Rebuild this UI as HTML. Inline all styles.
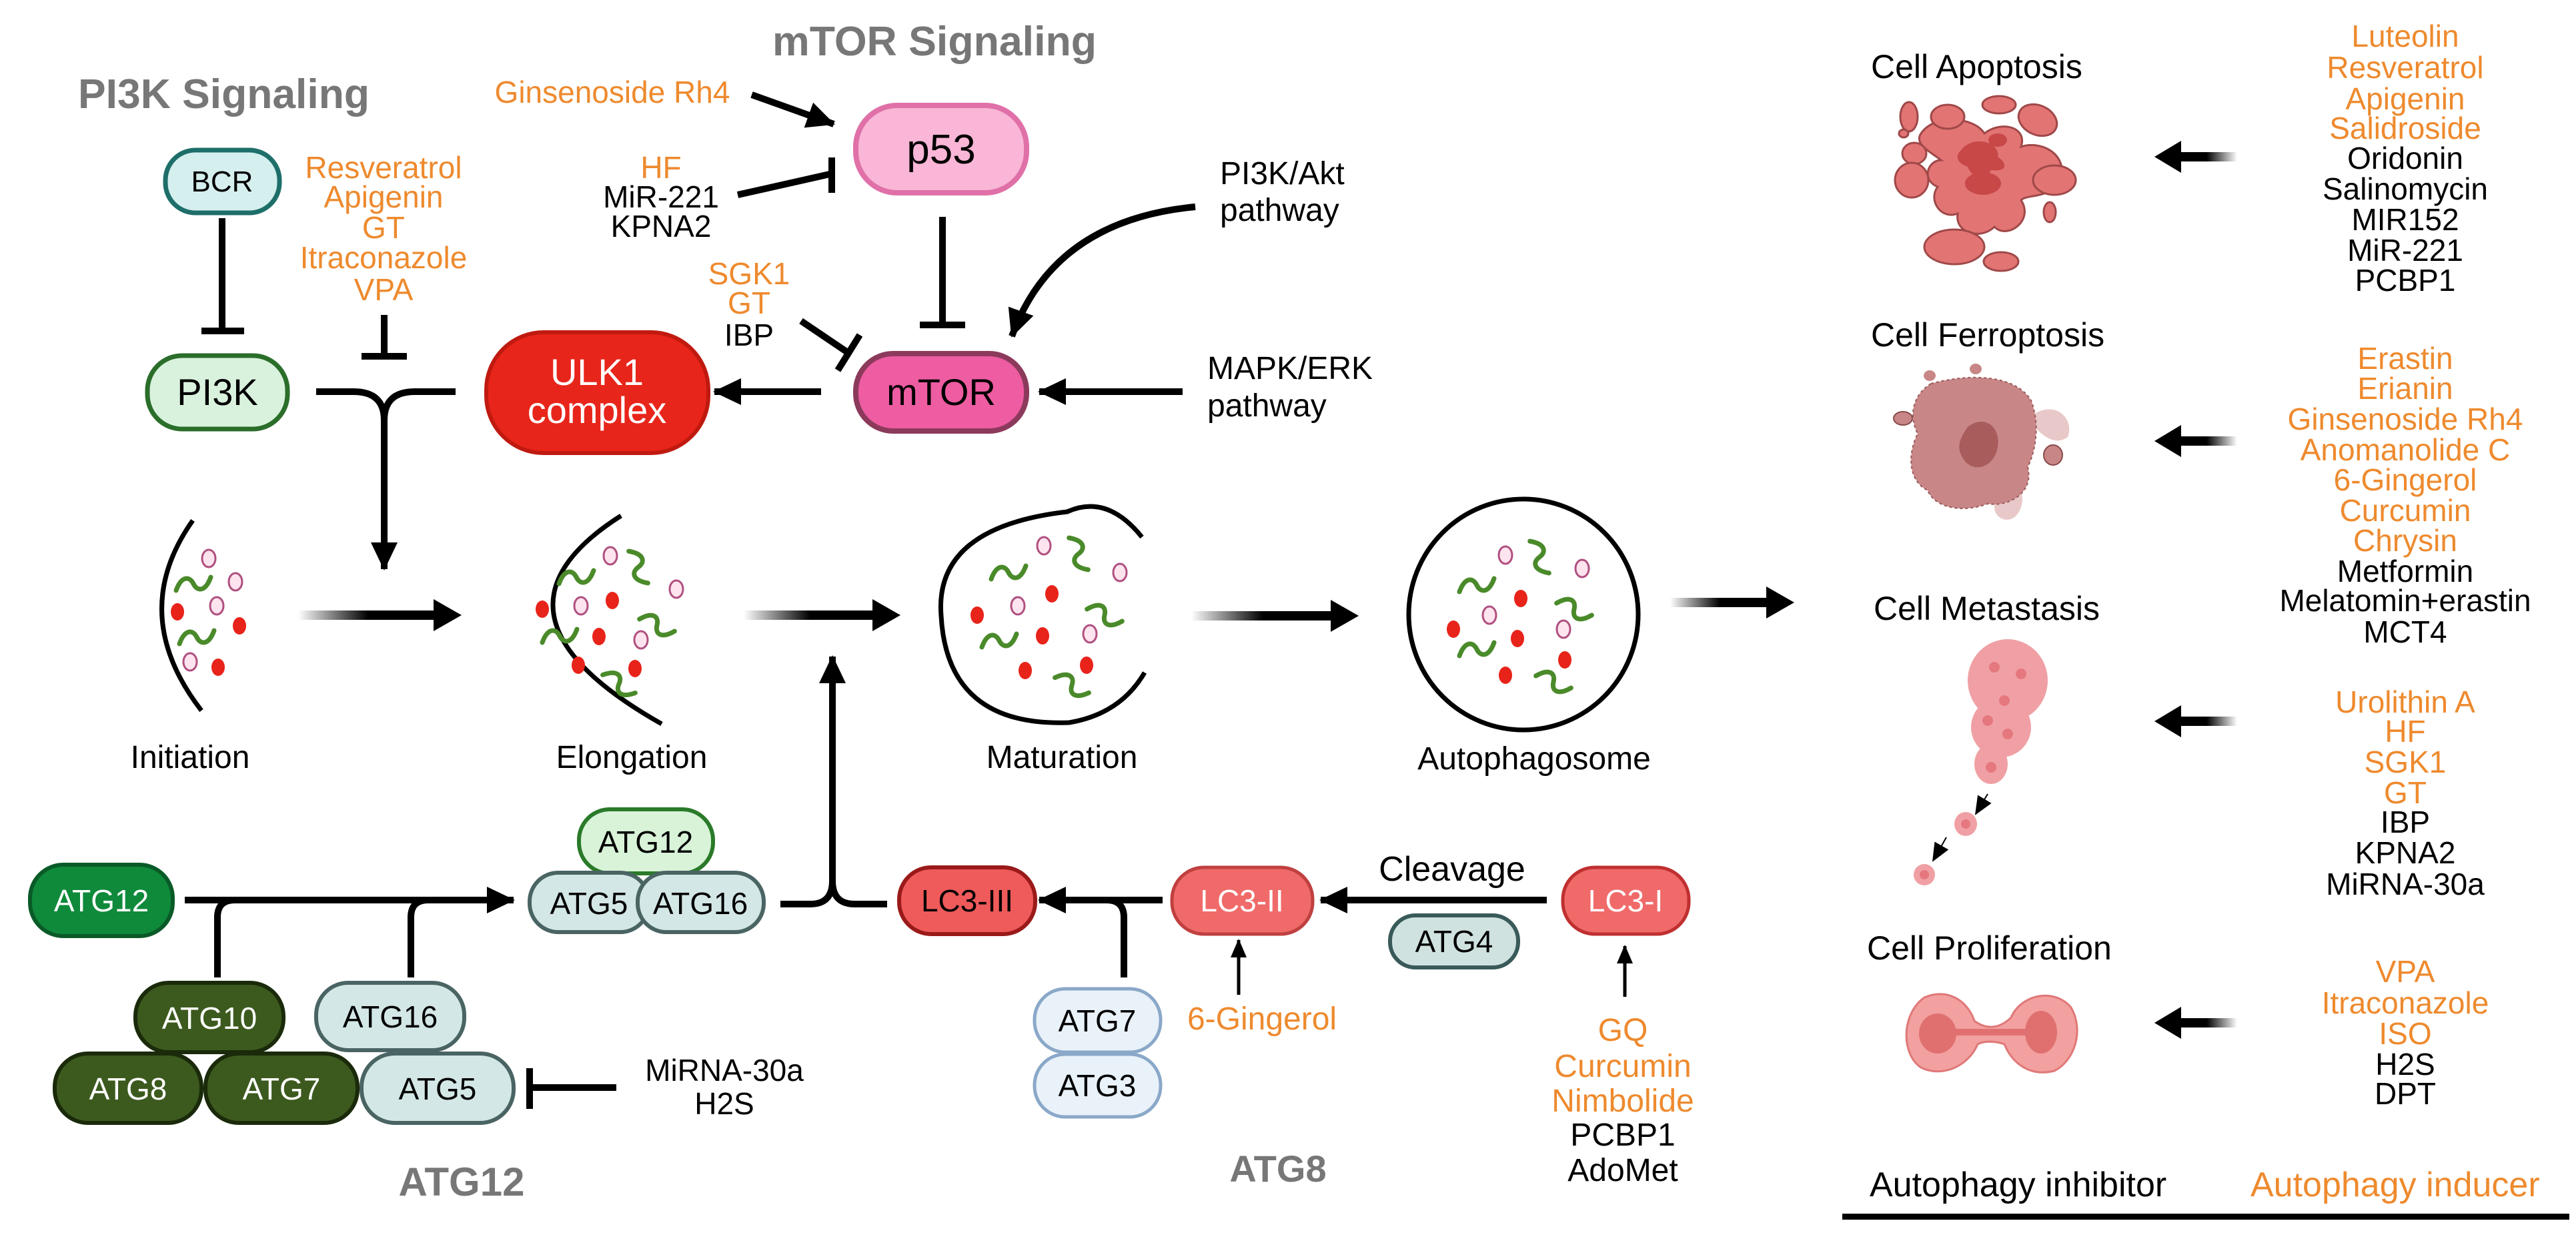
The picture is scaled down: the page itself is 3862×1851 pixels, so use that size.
<!DOCTYPE html>
<html><head><meta charset="utf-8"><style>
html,body{margin:0;padding:0;background:#fff}
svg{display:block}
text{font-family:"Liberation Sans",sans-serif}
</style></head><body>
<svg width="3862" height="1851" viewBox="0 0 3862 1851" xmlns="http://www.w3.org/2000/svg">
<defs>
<marker id="ah" markerUnits="userSpaceOnUse" markerWidth="48" markerHeight="48" refX="40" refY="24" orient="auto"><path d="M0,4 L42,24 L0,44 Z" fill="#000"/></marker>
<marker id="ahs" markerUnits="userSpaceOnUse" markerWidth="30" markerHeight="30" refX="26" refY="15" orient="auto"><path d="M0,3 L28,15 L0,27 Z" fill="#000"/></marker>
<linearGradient id="fadeR" x1="0" x2="1" y1="0" y2="0"><stop offset="0" stop-color="#000" stop-opacity="0"/><stop offset="0.5" stop-color="#000"/><stop offset="1" stop-color="#000"/></linearGradient>
<linearGradient id="fadeL" x1="1" x2="0" y1="0" y2="0"><stop offset="0" stop-color="#000" stop-opacity="0"/><stop offset="0.5" stop-color="#000"/><stop offset="1" stop-color="#000"/></linearGradient>
<path id="sq" d="M-26,10 C-18,-12 -6,-12 0,0 C6,12 18,12 26,-10" fill="none" stroke="#4a8a2a" stroke-width="7" stroke-linecap="round"/>
</defs>

<!-- titles -->
<text x="117" y="162" font-size="62" font-weight="bold" fill="#777" textLength="437" lengthAdjust="spacingAndGlyphs">PI3K Signaling</text>
<text x="1158" y="83" font-size="62" font-weight="bold" fill="#777" textLength="486" lengthAdjust="spacingAndGlyphs">mTOR Signaling</text>

<g font-size="46" text-anchor="middle">
<text x="918" y="154" fill="#ee8a2e">Ginsenoside Rh4</text>
<text x="991" y="267" fill="#ee8a2e">HF</text>
<text x="991" y="311" fill="#000">MiR-221</text>
<text x="991" y="355" fill="#000">KPNA2</text>
<text x="575" y="267" fill="#ee8a2e">Resveratrol</text>
<text x="575" y="311" fill="#ee8a2e">Apigenin</text>
<text x="575" y="357" fill="#ee8a2e">GT</text>
<text x="575" y="402" fill="#ee8a2e">Itraconazole</text>
<text x="575" y="450" fill="#ee8a2e">VPA</text>
<text x="1123" y="426" fill="#ee8a2e">SGK1</text>
<text x="1123" y="470" fill="#ee8a2e">GT</text>
<text x="1123" y="518" fill="#000">IBP</text>
</g>
<g font-size="48" fill="#000">
<text x="1829" y="276">PI3K/Akt</text>
<text x="1829" y="331">pathway</text>
<text x="1810" y="568">MAPK/ERK</text>
<text x="1810" y="624">pathway</text>
</g>

<rect x="1283" y="158" width="256" height="131" rx="62" fill="#f9b6d6" stroke="#e070a8" stroke-width="8"/>
<text x="1411" y="245" font-size="62" text-anchor="middle">p53</text>
<rect x="1283" y="530" width="256" height="116" rx="56" fill="#ee5ca2" stroke="#8c3a5c" stroke-width="8"/>
<text x="1411" y="607" font-size="56" text-anchor="middle">mTOR</text>
<rect x="248" y="225" width="171" height="94" rx="45" fill="#d5efee" stroke="#1e6e6a" stroke-width="7"/>
<text x="333" y="287" font-size="44" text-anchor="middle">BCR</text>
<rect x="221" y="533" width="210" height="110" rx="52" fill="#d9f2dd" stroke="#2a6e2a" stroke-width="7"/>
<text x="326" y="607" font-size="56" text-anchor="middle">PI3K</text>
<rect x="729" y="498" width="333" height="181" rx="86" fill="#e8251a" stroke="#c01a10" stroke-width="6"/>
<text x="895" y="577" font-size="56" text-anchor="middle" fill="#fff">ULK1</text>
<text x="895" y="634" font-size="56" text-anchor="middle" fill="#fff">complex</text>

<g stroke="#000" stroke-width="10" fill="none">
<line x1="1127" y1="142" x2="1250" y2="186" marker-end="url(#ah)"/>
<line x1="1106" y1="292" x2="1244" y2="261"/>
<line x1="1247" y1="236" x2="1247" y2="289"/>
<line x1="1413" y1="325" x2="1413" y2="487"/>
<line x1="1379" y1="487" x2="1447" y2="487"/>
<line x1="333" y1="327" x2="333" y2="496"/>
<line x1="302" y1="496" x2="366" y2="496"/>
<line x1="576" y1="472" x2="576" y2="534"/>
<line x1="542" y1="534" x2="610" y2="534"/>
<line x1="1201" y1="481" x2="1272" y2="529"/>
<line x1="1289" y1="502" x2="1256" y2="555"/>
<path d="M474,587 L530,587 Q576,587 576,630 Q576,587 622,587 L683,587"/>
<line x1="576" y1="620" x2="576" y2="853" marker-end="url(#ah)"/>
<line x1="1231" y1="587" x2="1071" y2="587" marker-end="url(#ah)"/>
<line x1="1773" y1="587" x2="1558" y2="587" marker-end="url(#ah)"/>
<path d="M1792,310 Q1580,330 1517,504" marker-end="url(#ah)"/>
</g>

<g fill="none" stroke="#000" stroke-width="7">
<path d="M289,780 Q190,920 302,1065"/>
<path d="M931,773 Q700,920 992,1085"/>
<path d="M1712,805 Q1660,740 1600,767 Q1400,790 1411,923 Q1420,1090 1603,1083 Q1680,1070 1716,1008"/>
<ellipse cx="2284" cy="921" rx="172" ry="173"/>
</g>
<!-- stage arrows (gradient rect + head) -->
<rect x="447" y="915" width="210" height="14" fill="url(#fadeR)"/><path d="M650,898 L692,922 L650,946 Z"/>
<rect x="1115" y="915" width="200" height="14" fill="url(#fadeR)"/><path d="M1308,898 L1350,922 L1308,946 Z"/>
<rect x="1786" y="916" width="215" height="14" fill="url(#fadeR)"/><path d="M1995,899 L2037,923 L1995,947 Z"/>
<rect x="2504" y="896" width="150" height="14" fill="url(#fadeR)"/><path d="M2648,879 L2690,903 L2648,927 Z"/>

<g fill="#fde4ee" stroke="#b05080" stroke-width="3">
<ellipse cx="313" cy="837" rx="10" ry="13"/><ellipse cx="353" cy="872" rx="10" ry="13"/><ellipse cx="325" cy="908" rx="10" ry="13"/><ellipse cx="285" cy="992" rx="10" ry="13"/>
<ellipse cx="915" cy="833" rx="10" ry="13"/><ellipse cx="871" cy="908" rx="10" ry="13"/><ellipse cx="1014" cy="883" rx="10" ry="13"/><ellipse cx="961" cy="959" rx="10" ry="13"/>
<ellipse cx="1565" cy="818" rx="10" ry="13"/><ellipse cx="1679" cy="858" rx="10" ry="13"/><ellipse cx="1526" cy="908" rx="10" ry="13"/><ellipse cx="1634" cy="950" rx="10" ry="13"/>
<ellipse cx="2257" cy="832" rx="10" ry="13"/><ellipse cx="2372" cy="852" rx="10" ry="13"/><ellipse cx="2233" cy="922" rx="10" ry="13"/><ellipse cx="2344" cy="943" rx="10" ry="13"/>
</g>
<g fill="#e8231a">
<ellipse cx="266" cy="917" rx="10" ry="13"/><ellipse cx="359" cy="938" rx="10" ry="13"/><ellipse cx="327" cy="1000" rx="10" ry="13"/>
<ellipse cx="813" cy="913" rx="10" ry="13"/><ellipse cx="918" cy="900" rx="10" ry="13"/><ellipse cx="898" cy="954" rx="10" ry="13"/><ellipse cx="867" cy="997" rx="10" ry="13"/><ellipse cx="952" cy="1002" rx="10" ry="13"/>
<ellipse cx="1577" cy="890" rx="10" ry="13"/><ellipse cx="1465" cy="922" rx="10" ry="13"/><ellipse cx="1563" cy="953" rx="10" ry="13"/><ellipse cx="1537" cy="1005" rx="10" ry="13"/><ellipse cx="1629" cy="997" rx="10" ry="13"/>
<ellipse cx="2280" cy="897" rx="10" ry="13"/><ellipse cx="2179" cy="943" rx="10" ry="13"/><ellipse cx="2275" cy="957" rx="10" ry="13"/><ellipse cx="2346" cy="989" rx="10" ry="13"/><ellipse cx="2257" cy="1012" rx="10" ry="13"/>
</g>
<g>
<use href="#sq" x="290" y="875"/><use href="#sq" x="295" y="955"/>
<use href="#sq" x="864" y="865"/><use href="#sq" transform="translate(957,850) rotate(80)"/><use href="#sq" transform="translate(985,937) rotate(40)"/><use href="#sq" x="839" y="953"/><use href="#sq" transform="translate(928,1025) rotate(50)"/>
<use href="#sq" x="1512" y="858"/><use href="#sq" transform="translate(1617,830) rotate(80)"/><use href="#sq" transform="translate(1656,922) rotate(40)"/><use href="#sq" x="1498" y="960"/><use href="#sq" transform="translate(1607,1027) rotate(45)"/>
<use href="#sq" x="2214" y="877"/><use href="#sq" transform="translate(2308,835) rotate(80)"/><use href="#sq" transform="translate(2360,913) rotate(40)"/><use href="#sq" x="2214" y="973"/><use href="#sq" transform="translate(2329,1022) rotate(40)"/>
</g>
<g font-size="48" text-anchor="middle">
<text x="285" y="1151">Initiation</text>
<text x="947" y="1151">Elongation</text>
<text x="1592" y="1151">Maturation</text>
<text x="2300" y="1153">Autophagosome</text>
</g>

<g stroke="#000" stroke-width="10" fill="none">
<line x1="277" y1="1349" x2="770" y2="1349" marker-end="url(#ah)"/>
<path d="M326,1465 L326,1375 Q326,1349 352,1349"/>
<path d="M616,1465 L616,1375 Q616,1349 642,1349"/>
<path d="M1170,1355 L1215,1355 Q1248,1355 1248,1320 Q1248,1355 1281,1355 L1330,1355"/>
<line x1="1248" y1="1330" x2="1248" y2="984" marker-end="url(#ah)"/>
<line x1="924" y1="1630" x2="794" y2="1630"/>
<line x1="794" y1="1601" x2="794" y2="1662"/>
<line x1="1743" y1="1349" x2="1558" y2="1349" marker-end="url(#ah)"/>
<path d="M1685,1465 L1685,1375 Q1685,1349 1659,1349"/>
<line x1="2319" y1="1349" x2="1980" y2="1349" marker-end="url(#ah)"/>
</g>
<g stroke="#000" stroke-width="5" fill="none">
<line x1="1857" y1="1491" x2="1857" y2="1409" marker-end="url(#ahs)"/>
<line x1="2436" y1="1494" x2="2436" y2="1418" marker-end="url(#ahs)"/>
</g>

<g font-size="46" text-anchor="middle">
<rect x="45" y="1296" width="214" height="107" rx="50" fill="#0e8a3a" stroke="#0a5a28" stroke-width="6"/>
<text x="152" y="1366" fill="#fff">ATG12</text>
<rect x="868" y="1213" width="201" height="96" rx="46" fill="#d8f3d8" stroke="#2a7a2a" stroke-width="6"/>
<text x="968" y="1278">ATG12</text>
<rect x="794" y="1308" width="179" height="89" rx="43" fill="#d4e7e7" stroke="#4a6464" stroke-width="6"/>
<text x="883" y="1370">ATG5</text>
<rect x="956" y="1308" width="189" height="89" rx="43" fill="#d4e7e7" stroke="#4a6464" stroke-width="6"/>
<text x="1050" y="1370">ATG16</text>
<rect x="203" y="1473" width="222" height="104" rx="50" fill="#3c5a1e" stroke="#1a2a0a" stroke-width="6"/>
<text x="314" y="1542" fill="#fff">ATG10</text>
<rect x="474" y="1473" width="222" height="101" rx="48" fill="#d4e7e7" stroke="#4a6464" stroke-width="6"/>
<text x="585" y="1540">ATG16</text>
<rect x="82" y="1579" width="220" height="104" rx="50" fill="#3c5a1e" stroke="#1a2a0a" stroke-width="6"/>
<text x="192" y="1648" fill="#fff">ATG8</text>
<rect x="308" y="1579" width="228" height="104" rx="50" fill="#3c5a1e" stroke="#1a2a0a" stroke-width="6"/>
<text x="422" y="1648" fill="#fff">ATG7</text>
<rect x="542" y="1579" width="228" height="104" rx="50" fill="#d4e7e7" stroke="#4a6464" stroke-width="6"/>
<text x="656" y="1648">ATG5</text>
<text x="1086" y="1620">MiRNA-30a</text>
<text x="1086" y="1670">H2S</text>
<text x="692" y="1792" font-size="60" font-weight="bold" fill="#777">ATG12</text>

<rect x="1348" y="1300" width="204" height="100" rx="48" fill="#ef5a5a" stroke="#9a1a1a" stroke-width="6"/>
<text x="1450" y="1366">LC3-III</text>
<rect x="1757" y="1300" width="211" height="100" rx="48" fill="#f06a6a" stroke="#c04040" stroke-width="5"/>
<text x="1862" y="1366" fill="#fff">LC3-II</text>
<rect x="2343" y="1300" width="189" height="100" rx="48" fill="#f06a6a" stroke="#c03030" stroke-width="5"/>
<text x="2437" y="1366" fill="#fff">LC3-I</text>
<rect x="2084" y="1372" width="192" height="78" rx="38" fill="#cfe2e0" stroke="#3a5a5a" stroke-width="6"/>
<text x="2180" y="1427">ATG4</text>
<rect x="1551" y="1482" width="189" height="95" rx="46" fill="#e9f1f9" stroke="#8aa8c8" stroke-width="5"/>
<text x="1645" y="1546">ATG7</text>
<rect x="1551" y="1580" width="189" height="94" rx="46" fill="#e9f1f9" stroke="#8aa8c8" stroke-width="5"/>
<text x="1645" y="1643">ATG3</text>
<text x="1892" y="1543" font-size="48" fill="#ee8a2e">6-Gingerol</text>
<text x="1916" y="1771" font-size="56" font-weight="bold" fill="#777">ATG8</text>
<text x="2177" y="1320" font-size="52">Cleavage</text>
<text x="2433" y="1560" font-size="48" fill="#ee8a2e">GQ</text>
<text x="2433" y="1614" font-size="48" fill="#ee8a2e">Curcumin</text>
<text x="2433" y="1666" font-size="48" fill="#ee8a2e">Nimbolide</text>
<text x="2433" y="1717" font-size="48">PCBP1</text>
<text x="2433" y="1770" font-size="48">AdoMet</text>
</g>

<g font-size="50">
<text x="2805" y="117">Cell Apoptosis</text>
<text x="2805" y="519">Cell Ferroptosis</text>
<text x="2809" y="929">Cell Metastasis</text>
<text x="2799" y="1438">Cell Proliferation</text>
</g>
<g font-size="46" text-anchor="middle">
<text x="3606" y="70" fill="#ee8a2e">Luteolin</text>
<text x="3606" y="117" fill="#ee8a2e">Resveratrol</text>
<text x="3606" y="164" fill="#ee8a2e">Apigenin</text>
<text x="3606" y="208" fill="#ee8a2e">Salidroside</text>
<text x="3606" y="253">Oridonin</text>
<text x="3606" y="299">Salinomycin</text>
<text x="3606" y="345">MIR152</text>
<text x="3606" y="391">MiR-221</text>
<text x="3606" y="436">PCBP1</text>
<text x="3606" y="553" fill="#ee8a2e">Erastin</text>
<text x="3606" y="598" fill="#ee8a2e">Erianin</text>
<text x="3606" y="644" fill="#ee8a2e">Ginsenoside Rh4</text>
<text x="3606" y="690" fill="#ee8a2e">Anomanolide C</text>
<text x="3606" y="735" fill="#ee8a2e">6-Gingerol</text>
<text x="3606" y="781" fill="#ee8a2e">Curcumin</text>
<text x="3606" y="826" fill="#ee8a2e">Chrysin</text>
<text x="3606" y="872">Metformin</text>
<text x="3606" y="916">Melatomin+erastin</text>
<text x="3606" y="963">MCT4</text>
<text x="3606" y="1068" fill="#ee8a2e">Urolithin A</text>
<text x="3606" y="1112" fill="#ee8a2e">HF</text>
<text x="3606" y="1158" fill="#ee8a2e">SGK1</text>
<text x="3606" y="1204" fill="#ee8a2e">GT</text>
<text x="3606" y="1248">IBP</text>
<text x="3606" y="1294">KPNA2</text>
<text x="3606" y="1341">MiRNA-30a</text>
<text x="3606" y="1472" fill="#ee8a2e">VPA</text>
<text x="3606" y="1519" fill="#ee8a2e">Itraconazole</text>
<text x="3606" y="1565" fill="#ee8a2e">ISO</text>
<text x="3606" y="1611">H2S</text>
<text x="3606" y="1655">DPT</text>
</g>
<!-- right arrows -->
<rect x="3262" y="228" width="92" height="14" fill="url(#fadeL)"/><path d="M3270,211 L3230,235 L3270,259 Z"/>
<rect x="3262" y="654" width="92" height="14" fill="url(#fadeL)"/><path d="M3270,637 L3230,661 L3270,685 Z"/>
<rect x="3262" y="1074" width="92" height="14" fill="url(#fadeL)"/><path d="M3270,1057 L3230,1081 L3270,1105 Z"/>
<rect x="3262" y="1526" width="92" height="14" fill="url(#fadeL)"/><path d="M3270,1509 L3230,1533 L3270,1557 Z"/>

<text x="2803" y="1793" font-size="52">Autophagy inhibitor</text>
<text x="3374" y="1793" font-size="52" fill="#ee8a2e">Autophagy inducer</text>
<rect x="2762" y="1819" width="1090" height="9" fill="#000"/>

<!-- apoptosis cell -->
<g fill="#e27474" stroke="#a04848" stroke-width="3">
<path d="M2880,200 C2900,170 2960,175 2975,200 C3000,180 3040,190 3030,220 C3060,210 3100,230 3090,270 C3070,300 3040,290 3030,300 C3050,330 3010,360 2990,340 C2970,360 2930,350 2935,320 C2910,330 2890,300 2905,280 C2880,270 2890,240 2910,240 C2890,225 2870,215 2880,200 Z"/>
<ellipse cx="2862" cy="175" rx="13" ry="22"/>
<ellipse cx="2920" cy="175" rx="25" ry="18"/>
<ellipse cx="2997" cy="157" rx="25" ry="13"/>
<ellipse cx="3055" cy="180" rx="30" ry="22" transform="rotate(25 3055 180)"/>
<ellipse cx="2870" cy="230" rx="18" ry="16"/>
<ellipse cx="2866" cy="270" rx="25" ry="26"/>
<ellipse cx="3080" cy="270" rx="32" ry="22"/>
<ellipse cx="2930" cy="370" rx="45" ry="26"/>
<ellipse cx="3000" cy="392" rx="26" ry="14"/>
<ellipse cx="3073" cy="318" rx="9" ry="15"/>
<ellipse cx="2854" cy="200" rx="7" ry="6"/>
</g>
<g fill="#c84848">
<path d="M2940,225 C2960,200 3000,215 2995,235 C3010,245 3010,258 2985,255 C2975,275 2955,265 2950,250 C2935,245 2930,235 2940,225Z"/>
<ellipse cx="2973" cy="275" rx="27" ry="17"/>
<ellipse cx="2995" cy="210" rx="14" ry="10"/>
</g>
<!-- ferroptosis cell -->
<g>
<path d="M3050,620 C3085,600 3110,630 3100,655 C3080,670 3060,650 3050,640Z" fill="#e8c8c8"/>
<path d="M2990,740 C3010,720 3040,730 3030,760 C3020,790 2990,780 2990,760Z" fill="#e8c8c8"/>
<path d="M2895,575 C2950,560 3020,560 3045,600 C3060,640 3050,680 3040,700 C3050,740 3010,760 2980,755 C2940,770 2900,760 2890,735 C2860,720 2860,680 2875,650 C2860,620 2870,590 2895,575Z" fill="#c88686" stroke="#9a5a5a" stroke-width="2" stroke-dasharray="4 4"/>
<path d="M2950,640 C2975,620 3000,640 2995,670 C2990,700 2960,710 2945,690 C2930,670 2940,655 2950,640Z" fill="#a85c5c"/>
<ellipse cx="2853" cy="627" rx="14" ry="10" fill="#c88686" stroke="#8a4a4a" stroke-width="2"/>
<ellipse cx="3078" cy="682" rx="14" ry="15" fill="#c88686" stroke="#8a4a4a" stroke-width="2"/>
<ellipse cx="2893" cy="563" rx="9" ry="8" fill="#c88686"/>
<ellipse cx="2962" cy="553" rx="9" ry="8" fill="#c88686"/>
</g>
<!-- metastasis -->
<g fill="#f0a0a4">
<ellipse cx="3010" cy="1020" rx="60" ry="62"/>
<ellipse cx="3000" cy="1090" rx="45" ry="45"/>
<ellipse cx="2985" cy="1145" rx="25" ry="30"/>
<ellipse cx="2947" cy="1235" rx="17" ry="18"/>
<ellipse cx="2885" cy="1311" rx="16" ry="16"/>
</g>
<g fill="#e4787e">
<circle cx="2990" cy="1000" r="8"/><circle cx="3030" cy="1010" r="8"/><circle cx="3005" cy="1050" r="8"/><circle cx="2980" cy="1080" r="8"/><circle cx="3010" cy="1100" r="8"/><circle cx="2985" cy="1150" r="8"/><circle cx="2947" cy="1235" r="7"/><circle cx="2885" cy="1311" r="7"/>
</g>
<g stroke="#000" stroke-width="2" fill="none">
<line x1="2980" y1="1190" x2="2962" y2="1220" marker-end="url(#ahs)"/>
<line x1="2918" y1="1255" x2="2898" y2="1290" marker-end="url(#ahs)"/>
</g>
<!-- proliferation -->
<g>
<path d="M2885,1495 C2920,1480 2950,1500 2960,1530 C2980,1545 3000,1540 3015,1525 C3030,1490 3080,1480 3105,1510 C3125,1545 3110,1590 3080,1605 C3040,1615 3015,1590 3005,1565 C2990,1560 2975,1560 2965,1565 C2950,1600 2910,1615 2880,1600 C2850,1580 2850,1520 2885,1495Z" fill="#f2a0a0" stroke="#e07878" stroke-width="3"/>
<ellipse cx="2905" cy="1549" rx="28" ry="30" fill="#e07070"/>
<ellipse cx="3060" cy="1547" rx="24" ry="32" fill="#e07070"/>
<rect x="2925" y="1542" width="115" height="10" fill="#e07070"/>
</g>
</svg>
</body></html>
